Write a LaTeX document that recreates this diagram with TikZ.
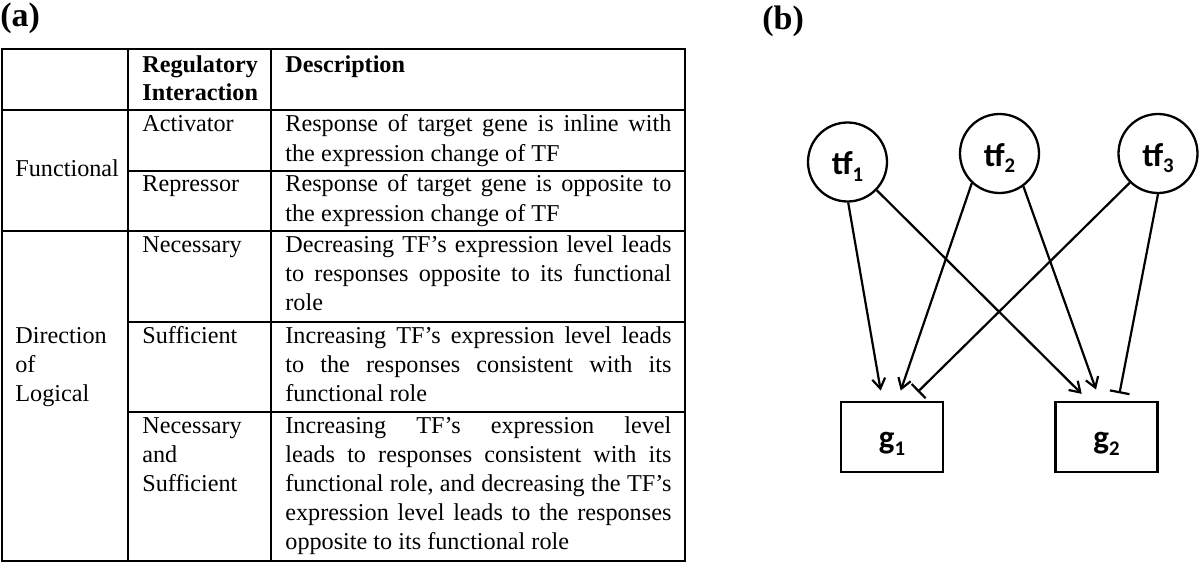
\documentclass[tikz,border=0pt]{standalone}
\usepackage{fontspec}
\setmainfont{Liberation Serif}
\newfontfamily\calib{Carlito}
\usetikzlibrary{arrows.meta,calc}
\newcommand\jline[1]{\makebox[193pt][s]{#1}}
\newcommand\lowsub[1]{\raisebox{-3.3pt}{\fontsize{10.4}{11}\selectfont #1}}
\begin{document}
\begin{tikzpicture}[x=0.5pt,y=-0.5pt,
  tbl/.style={line width=0.65pt},
  cell/.style={anchor=base west, inner sep=0pt, font=\fontsize{12.1}{14}\selectfont},
  hcell/.style={anchor=base west, inner sep=0pt, font=\fontsize{12.1}{14}\selectfont\bfseries},
  panel/.style={anchor=base west, inner sep=0pt, font=\fontsize{17}{20}\selectfont\bfseries},
  tfnode/.style={circle, draw, line width=1.15pt, minimum size=39.5pt, inner sep=0pt,
    font=\calib\bfseries\fontsize{16.5}{19}\selectfont, text height=14pt, text depth=1.3pt},
  gnode/.style={rectangle, draw, line width=1.15pt, minimum width=51pt, minimum height=35pt, inner sep=0pt,
    font=\calib\bfseries\fontsize{16.5}{19}\selectfont, text height=13.5pt, text depth=1.7pt},
  act/.style={line width=1.1pt, -{Straight Barb[length=5pt,width=6.5pt]}},
  rep/.style={line width=1.1pt, -{Bar[width=10pt]}},
]
\useasboundingbox (0,0) rectangle (1200,562);

% panel labels
\node[panel] (la) at (0,26) {(a)};
\node[panel] (lb) at (762,30) {(b)};

% table grid
\draw[tbl] (2,49) rectangle (685,561);
\draw[tbl] (128,49) -- (128,561);
\draw[tbl] (271,49) -- (271,561);
\draw[tbl] (2,110) -- (685,110);
\draw[tbl] (128,171) -- (685,171);
\draw[tbl] (2,231) -- (685,231);
\draw[tbl] (128,322) -- (685,322);
\draw[tbl] (128,412) -- (685,412);

% header
\node[hcell] (h1) at (142,72) {Regulatory};
\node[hcell] (h2) at (142,100) {Interaction};
\node[hcell] (h3) at (285,72) {Description};

% first column
\node[cell] (c1) at (15,176) {Functional};
\node[cell] (c2a) at (15,343) {Direction};
\node[cell] (c2b) at (15,372) {of};
\node[cell] (c2c) at (15,401) {Logical};

% second column
\node[cell] (r1) at (142,131) {Activator};
\node[cell] (r2) at (142,191) {Repressor};
\node[cell] (r3) at (142,252) {Necessary};
\node[cell] (r4) at (142,343) {Sufficient};
\node[cell] (r5a) at (142,433) {Necessary};
\node[cell] (r5b) at (142,462) {and};
\node[cell] (r5c) at (142,491) {Sufficient};

% descriptions
\node[cell] (d1a) at (285,131) {\jline{Response of target gene is inline with}};
\node[cell] (d1b) at (285,161) {the expression change of TF};
\node[cell] (d2a) at (285,191) {\jline{Response of target gene is opposite to}};
\node[cell] (d2b) at (285,221) {the expression change of TF};
\node[cell] (d3a) at (285,252) {\jline{Decreasing TF’s expression level leads}};
\node[cell] (d3b) at (285,281) {\jline{to responses opposite to its functional}};
\node[cell] (d3c) at (285,310) {role};
\node[cell] (d4a) at (285,343) {\jline{Increasing TF’s expression level leads}};
\node[cell] (d4b) at (285,372) {\jline{to the responses consistent with its}};
\node[cell] (d4c) at (285,401) {functional role};
\node[cell] (d5a) at (285,433) {\jline{Increasing TF’s expression level}};
\node[cell] (d5b) at (285,462) {\jline{leads to responses consistent with its}};
\node[cell] (d5c) at (285,491) {\jline{functional role, and decreasing the TF’s}};
\node[cell] (d5d) at (285,520) {\jline{expression level leads to the responses}};
\node[cell] (d5e) at (285,549) {opposite to its functional role};

% network
\node[tfnode] (tf1) at (847.5,162) {tf\lowsub{1}};
\node[tfnode] (tf2) at (999.5,153.5) {tf\lowsub{2}};
\node[tfnode] (tf3) at (1158,153.5) {tf\lowsub{3}};
\node[gnode] (g1) at (892,436.7) {g\lowsub{1}};
\node[gnode] (g2) at (1106.5,436.7) {g\lowsub{2}};

\coordinate (e11) at ($(g1.north)+(-11.3,-10)$);
\coordinate (e21) at ($(g1.north)+(8.7,-10)$);
\coordinate (e31) at ($(g1.north)+(25.8,-8.7)$);
\coordinate (e12) at ($(g2.north)+(-24.8,-6.7)$);
\coordinate (e22) at ($(g2.north)+(-10.5,-11)$);
\coordinate (e32) at ($(g2.north)+(13,-7.2)$);

\draw[act] (tf1.-89) -- (e11);
\draw[act] (tf1.-44.5) -- (e12);
\draw[act] (tf2.-133) -- (e21);
\draw[act] (tf2.-54) -- (e22);
\draw[rep] (tf3.-134.5) -- (e31);
\draw[rep] (tf3.-90) -- (e32);
\end{tikzpicture}
\end{document}
